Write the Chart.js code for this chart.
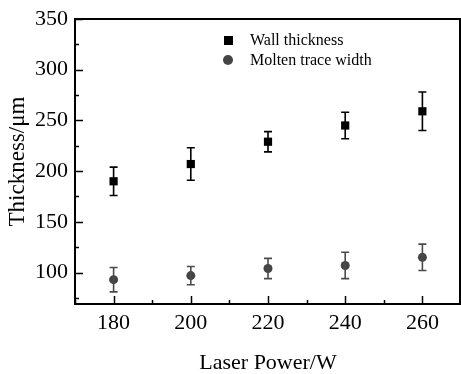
<!DOCTYPE html>
<html>
<head>
<meta charset="utf-8">
<script src="https://cdn.jsdelivr.net/npm/chart.js@4/dist/chart.umd.min.js"></script>
<style>
    body { margin: 0; background: #fff; }
    #wrap { position: relative; width: 461px; height: 374px; }
    #legend {
        position: absolute; left: 222px; top: 30px;
        font-family: 'Liberation Serif', 'Times New Roman', serif;
        font-size: 16px; line-height: 20px; color: #000;
    }
    #legend .row { display: flex; align-items: center; }
    #legend .mk { width: 12px; height: 12px; margin-right: 16px; display: flex; align-items: center; justify-content: center; }
    #legend .sq { width: 9px; height: 9px; background: #000; }
    #legend .ci { width: 10px; height: 10px; border-radius: 50%; background: #444; }
</style>
</head>
<body>
<div id="wrap">
    <canvas id="thicknessChart" width="461" height="374"></canvas>
    <div id="legend">
        <div class="row"><span class="mk"><span class="sq"></span></span>Wall thickness</div>
        <div class="row"><span class="mk"><span class="ci"></span></span>Molten trace width</div>
    </div>
</div>
<script>
// Thickness vs laser power, with error bars
const laserPower = [180, 200, 220, 240, 260];
const wallThickness = [190, 207, 229, 245, 259];
const wallError = [14, 16, 10, 13, 19];
const traceWidth = [93, 97, 104, 107, 115];
const traceError = [12, 9, 10, 13, 13];
const xTicks = [170, 180, 190, 200, 210, 220, 230, 240, 250, 260, 270];
const yTicks = [75, 100, 125, 150, 175, 200, 225, 250, 275, 300, 325, 350];

const serif = "'Liberation Serif', 'Times New Roman', serif";

function toPoints(xs, ys, errs) {
    return xs.map(function(x, i) { return { x: x, y: ys[i], err: errs[i] }; });
}

// error bars + inward ticks + frame
const extras = {
    id: 'extras',
    afterDatasetsDraw: function(chart) {
        const ctx = chart.ctx;
        const xs = chart.scales.x, ys = chart.scales.y;
        chart.data.datasets.forEach(function(ds) {
            ctx.save();
            ctx.strokeStyle = ds.borderColor;
            ctx.lineWidth = 1.6;
            ds.data.forEach(function(p) {
                const px = xs.getPixelForValue(p.x);
                const top = ys.getPixelForValue(p.y + p.err);
                const bot = ys.getPixelForValue(p.y - p.err);
                ctx.beginPath();
                ctx.moveTo(px, top); ctx.lineTo(px, bot);
                ctx.moveTo(px - 4, top); ctx.lineTo(px + 4, top);
                ctx.moveTo(px - 4, bot); ctx.lineTo(px + 4, bot);
                ctx.stroke();
            });
            ctx.restore();
        });
    },
    afterDraw: function(chart) {
        const ctx = chart.ctx;
        const a = chart.chartArea;
        const xs = chart.scales.x, ys = chart.scales.y;
        ctx.save();
        ctx.strokeStyle = '#000';
        ctx.lineWidth = 1.5;
        ctx.beginPath();
        xTicks.forEach(function(v) {
            const px = Math.round(xs.getPixelForValue(v)) + 0.5;
            const len = (v % 20 === 0) ? 8 : 4;
            ctx.moveTo(px, a.bottom); ctx.lineTo(px, a.bottom - len);
        });
        yTicks.forEach(function(v) {
            const py = Math.round(ys.getPixelForValue(v)) + 0.5;
            const len = (v % 50 === 0) ? 8 : 4;
            ctx.moveTo(a.left, py); ctx.lineTo(a.left + len, py);
        });
        ctx.stroke();
        ctx.lineWidth = 2;
        ctx.strokeRect(a.left, a.top, a.right - a.left - 1, a.bottom - a.top);
        ctx.restore();
    }
};

const chart = new Chart(document.getElementById('thicknessChart'), {
    type: 'scatter',
    data: {
        datasets: [
            {
                label: 'Wall thickness',
                data: toPoints(laserPower, wallThickness, wallError),
                pointStyle: 'rect',
                pointRadius: 5.8,
                pointHoverRadius: 5.8,
                backgroundColor: '#000',
                borderColor: '#000',
                borderWidth: 0
            },
            {
                label: 'Molten trace width',
                data: toPoints(laserPower, traceWidth, traceError),
                pointStyle: 'circle',
                pointRadius: 4.5,
                pointHoverRadius: 4.5,
                backgroundColor: '#444',
                borderColor: '#4a4a4a',
                borderWidth: 0
            }
        ]
    },
    options: {
        responsive: false,
        animation: false,
        layout: { autoPadding: false, padding: { top: 19, right: 0, left: 0, bottom: 0 } },
        plugins: {
            legend: { display: false },
            tooltip: { enabled: false }
        },
        scales: {
            x: {
                type: 'linear',
                min: 170,
                max: 270,
                afterBuildTicks: function(scale) {
                    scale.ticks = xTicks.map(function(v) { return { value: v }; });
                },
                afterFit: function(scale) {
                    scale.height = 70;
                    scale.paddingLeft = 0;
                    scale.paddingRight = 0;
                },
                grid: { display: false, drawTicks: false },
                border: { display: false },
                ticks: {
                    padding: 6,
                    color: '#000',
                    font: { family: serif, size: 22 },
                    maxRotation: 0,
                    autoSkip: false,
                    callback: function(v) { return v % 20 === 0 ? String(v) : ''; }
                },
                title: {
                    display: true,
                    text: 'Laser Power/W',
                    color: '#000',
                    font: { family: serif, size: 22, lineHeight: 1.0 },
                    padding: { top: 0, bottom: 0 }
                }
            },
            y: {
                type: 'linear',
                min: 69,
                max: 350,
                afterBuildTicks: function(scale) {
                    scale.ticks = yTicks.map(function(v) { return { value: v }; });
                },
                afterFit: function(scale) {
                    scale.width = 75;
                    scale.paddingTop = 0;
                    scale.paddingBottom = 0;
                },
                grid: { display: false, drawTicks: false },
                border: { display: false },
                ticks: {
                    padding: 7,
                    color: '#000',
                    font: { family: serif, size: 22 },
                    autoSkip: false,
                    callback: function(v) { return v % 50 === 0 ? String(v) : ''; }
                },
                title: {
                    display: true,
                    text: 'Thickness/\u03bcm',
                    color: '#000',
                    font: { family: serif, size: 23, lineHeight: 1.2 },
                    padding: { top: 4, bottom: 0 }
                }
            }
        }
    },
    plugins: [extras]
});
</script>
</body>
</html>
